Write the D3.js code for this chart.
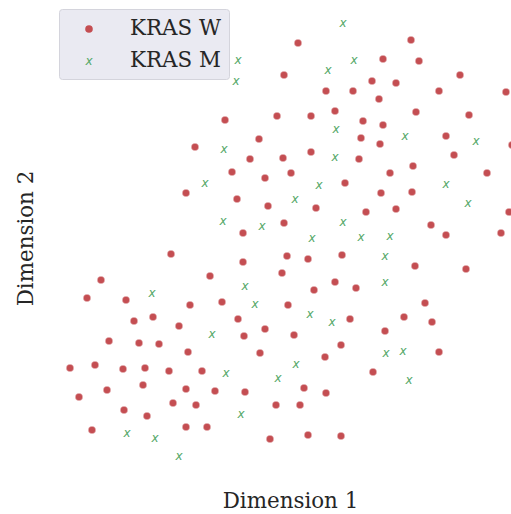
<!DOCTYPE html>
<html>
<head>
<meta charset="utf-8">
<script src="https://cdn.jsdelivr.net/npm/d3@7"></script>
<style>
  body { margin: 0; background: #fff; }
  svg { display: block; }
</style>
</head>
<body>
<div id="chart"></div>
<script>
const width = 511;
const height = 514;

// KRAS wild type, [Dimension 1, Dimension 2]
const krasW = [
  [-3.1, 13.6], [-6.1, 10.9], [-0.6, 9.7], [0.3, 11.7], [-2.4, 8.4],
  [4.2, 21.3], [15.5, 21.6], [12.7, 19.7], [16.3, 19.5], [2.8, 18.1],
  [20.4, 18.1], [11.6, 17.5], [14.0, 17.3], [7.0, 16.5], [9.7, 16.5],
  [18.3, 16.5], [25.0, 16.4], [12.3, 15.7], [7.9, 14.5], [2.1, 14.0],
  [5.5, 14.0], [16.0, 14.4], [21.3, 14.1], [10.7, 13.5], [12.7, 13.1],
  [10.5, 11.8], [19.0, 12.0], [12.4, 11.2], [25.6, 11.1], [2.7, 9.8],
  [5.5, 10.4], [10.3, 9.7], [15.7, 9.0], [19.8, 10.1], [3.5, 8.3],
  [13.4, 8.3], [23.1, 8.3], [-7.0, 6.3], [-1.9, 5.7], [-1.3, 2.3],
  [-8.5, 0.2], [-1.3, -0.6], [-15.5, -2.4], [-4.6, -2.0], [-16.9, -4.2],
  [-13.0, -4.4], [-6.6, -4.9], [-3.4, -4.6], [-12.2, -6.5], [-10.3, -6.1],
  [-7.7, -7.0], [-1.8, -6.3], [-1.2, -8.0], [-14.7, -8.5], [-11.7, -8.7],
  [-9.7, -8.8], [0.9, 7.8], [8.9, 7.3], [12.5, 6.3], [15.6, 6.4],
  [1.2, 5.0], [6.0, 4.8], [11.0, 4.4], [14.0, 4.7], [25.3, 4.4],
  [2.8, 3.3], [17.5, 3.1], [19.0, 2.1], [24.5, 2.3], [3.1, 0.0],
  [5.2, -0.3], [8.6, 0.1], [15.9, -1.0], [21.0, -1.3], [2.6, -1.7],
  [7.9, -2.6], [10.0, -3.2], [5.8, -3.4], [3.2, -4.9], [9.4, -6.3],
  [16.9, -4.7], [14.8, -6.1], [17.6, -6.6], [0.9, -7.3], [3.8, -7.9],
  [12.9, -7.5], [-6.8, -9.6], [-18.6, -11.2], [-16.1, -10.9], [-13.3, -11.3],
  [-11.1, -11.2], [-8.7, -11.5], [-5.4, -11.5], [-17.7, -14.1], [-14.9, -13.4],
  [-11.3, -12.9], [-7.0, -13.3], [-4.1, -13.5], [-1.1, -13.6], [-8.3, -14.7],
  [-6.0, -14.9], [-13.2, -15.4], [-10.9, -16.0], [-16.4, -17.4], [-7.0, -17.1],
  [-4.9, -17.1], [0.4, -9.7], [8.5, -8.9], [6.9, -10.1], [18.3, -9.6],
  [11.7, -11.6], [4.8, -13.2], [7.0, -13.7], [2.0, -14.9], [4.4, -14.9],
  [1.4, -18.3], [5.2, -17.9], [8.5, -18.0]
];

// KRAS mutant
const krasM = [
  [-1.8, 19.6], [-2.0, 17.5], [-3.2, 10.7], [8.7, 23.3], [9.8, 19.6],
  [7.2, 18.6], [8.0, 12.7], [14.9, 12.0], [22.0, 11.5], [7.9, 9.9],
  [-5.1, 7.3], [-3.3, 3.5], [-1.1, -3.0], [-10.4, -3.7], [-0.1, -4.8],
  [-4.4, -7.8], [6.3, 7.1], [19.0, 7.2], [3.9, 5.7], [21.2, 5.3],
  [0.6, 3.0], [8.7, 3.4], [5.6, 1.8], [10.5, 1.9], [13.4, 2.0],
  [12.9, 0.0], [12.9, -2.6], [5.4, -5.8], [7.6, -6.6], [-3.0, -11.7],
  [-1.5, -15.8], [-12.9, -17.7], [-10.1, -18.2], [-7.7, -20.0], [4.0, -10.8],
  [13.0, -9.7], [14.7, -9.5], [2.2, -12.2], [15.3, -12.4]
];

const labels = ["KRAS W", "KRAS M"];
const red = "#c44e52";
const green = "#55a868";
const serif = "'DejaVu Serif', serif";
const labelSize = 21.4;

const svg = d3.select("#chart")
  .append("svg")
  .attr("width", width)
  .attr("height", height);

const x = d3.scaleLinear().domain([-25.6, 25.5]).range([0, width]);
const y = d3.scaleLinear().domain([25.6, -25.8]).range([0, height]);

const plot = svg.append("g");

plot.selectAll("circle.w")
  .data(krasW)
  .enter()
  .append("circle")
  .attr("class", "w")
  .attr("cx", d => x(d[0]))
  .attr("cy", d => y(d[1]))
  .attr("r", 3.8)
  .attr("fill", red)
  .attr("stroke", "#fff")
  .attr("stroke-width", 0.4);

plot.selectAll("text.m")
  .data(krasM)
  .enter()
  .append("text")
  .attr("class", "m")
  .attr("x", d => x(d[0]))
  .attr("y", d => y(d[1]))
  .attr("dy", "0.33em")
  .attr("text-anchor", "middle")
  .attr("font-family", "'DejaVu Sans', sans-serif")
  .attr("font-style", "italic")
  .attr("font-size", 12)
  .attr("fill", green)
  .text("x");

// axis labels
svg.append("text")
  .attr("x", 290.5)
  .attr("y", 508)
  .attr("text-anchor", "middle")
  .attr("font-family", serif)
  .attr("font-size", labelSize)
  .attr("fill", "#262626")
  .text("Dimension 1");

svg.append("text")
  .attr("transform", "translate(33,238.5) rotate(-90)")
  .attr("text-anchor", "middle")
  .attr("font-family", serif)
  .attr("font-size", labelSize)
  .attr("fill", "#262626")
  .text("Dimension 2");

// legend
const legend = svg.append("g");
legend.append("rect")
  .attr("x", 59.5)
  .attr("y", 9.5)
  .attr("width", 170)
  .attr("height", 70)
  .attr("rx", 3)
  .attr("fill", "#eaeaf2")
  .attr("stroke", "#d4d4dc");

legend.append("circle")
  .attr("cx", 89)
  .attr("cy", 29)
  .attr("r", 3.8)
  .attr("fill", red);

legend.append("text")
  .attr("x", 89)
  .attr("y", 61)
  .attr("dy", "0.33em")
  .attr("text-anchor", "middle")
  .attr("font-family", "'DejaVu Sans', sans-serif")
  .attr("font-style", "italic")
  .attr("font-size", 12)
  .attr("fill", green)
  .text("x");

legend.selectAll("text.lab")
  .data(labels)
  .enter()
  .append("text")
  .attr("class", "lab")
  .attr("x", 130)
  .attr("y", (d, i) => 35 + i * 32)
  .attr("font-family", serif)
  .attr("font-size", labelSize)
  .attr("fill", "#262626")
  .text(d => d);
</script>
</body>
</html>
